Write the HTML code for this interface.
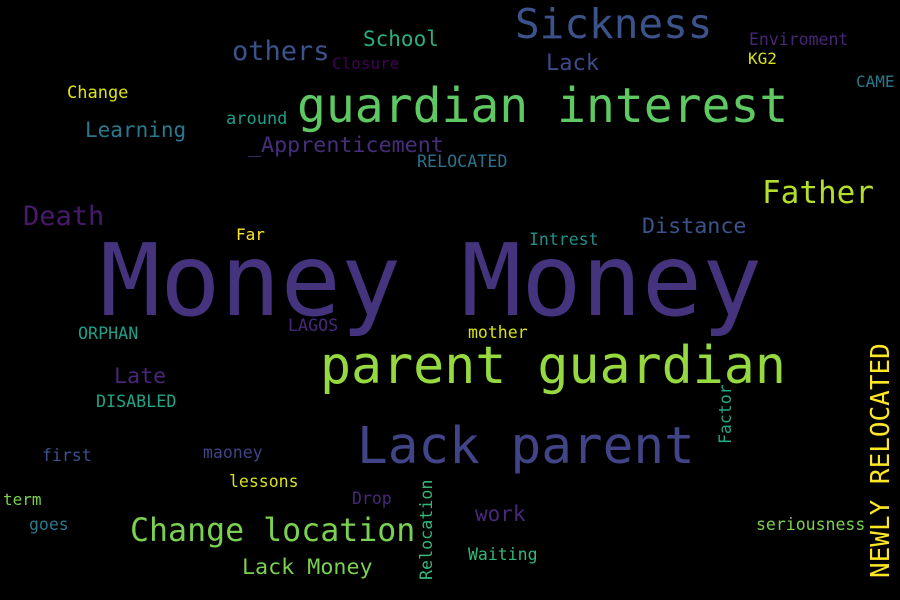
<!DOCTYPE html>
<html>
<head>
<meta charset="utf-8">
<style>
html,body{margin:0;padding:0;background:#000;}
svg{display:block;}
text{font-family:"DejaVu Sans Mono","Liberation Mono",monospace;}
</style>
</head>
<body>
<svg width="900" height="600" viewBox="0 0 900 600">
<rect width="900" height="600" fill="#000"/>
<text x="100" y="315" font-size="100" fill="#46337e">Money Money</text>
<text x="297" y="122" font-size="48" fill="#5ec962">guardian interest</text>
<text x="320" y="383" font-size="51.6" fill="#95d840">parent guardian</text>
<text x="357" y="463" font-size="51" fill="#414487">Lack parent</text>
<text x="515" y="38" font-size="41" fill="#3b528b">Sickness</text>
<text x="130" y="541" font-size="31.6" fill="#7ad151">Change location</text>
<text transform="translate(889,578) rotate(-90)" font-size="26" fill="#fde725">NEWLY RELOCATED</text>
<text x="762" y="203" font-size="31" fill="#b5de2b">Father</text>
<text x="23" y="225" font-size="27" fill="#481a6c">Death</text>
<text x="232" y="60" font-size="27" fill="#3b528b">others</text>
<text x="363" y="46" font-size="21" fill="#29af7f">School</text>
<text x="546" y="70" font-size="22" fill="#3e4a89">Lack</text>
<text x="749" y="45" font-size="16.5" fill="#482677">Enviroment</text>
<text x="748" y="64" font-size="16" fill="#d8e219">KG2</text>
<text x="856" y="87" font-size="16" fill="#2a788e">CAME</text>
<text x="332" y="69" font-size="16" fill="#440154">Closure</text>
<text x="67" y="98" font-size="17" fill="#dde318">Change</text>
<text x="226" y="124" font-size="17" fill="#1f9e89">around</text>
<text x="85" y="137" font-size="21" fill="#2a788e">Learning</text>
<text x="248" y="152" font-size="21.7" fill="#472d7b">_Apprenticement</text>
<text x="417" y="167" font-size="16.7" fill="#2c728e">RELOCATED</text>
<text x="642" y="233" font-size="21.7" fill="#3b528b">Distance</text>
<text x="236" y="240" font-size="16" fill="#fde725">Far</text>
<text x="529" y="245" font-size="16.5" fill="#21918c">Intrest</text>
<text x="78" y="339" font-size="16.7" fill="#1f9e89">ORPHAN</text>
<text x="288" y="331" font-size="16.7" fill="#482878">LAGOS</text>
<text x="468" y="338" font-size="16.5" fill="#d8e219">mother</text>
<text x="114" y="383" font-size="21.7" fill="#482677">Late</text>
<text x="96" y="407" font-size="16.7" fill="#20a386">DISABLED</text>
<text transform="translate(731,444) rotate(-90)" font-size="16.5" fill="#22a884">Factor</text>
<text x="42" y="461" font-size="16.5" fill="#3b528b">first</text>
<text x="203" y="458" font-size="16.5" fill="#414487">maoney</text>
<text x="229" y="487" font-size="16.5" fill="#d8e219">lessons</text>
<text x="3" y="505" font-size="16" fill="#7ad151">term</text>
<text x="352" y="504" font-size="16.5" fill="#482878">Drop</text>
<text transform="translate(432,580) rotate(-90)" font-size="16.7" fill="#35b779">Relocation</text>
<text x="475" y="521" font-size="21" fill="#482878">work</text>
<text x="756" y="530" font-size="16.5" fill="#7ad151">seriousness</text>
<text x="29" y="530" font-size="16.5" fill="#2a788e">goes</text>
<text x="468" y="560" font-size="16.5" fill="#35b779">Waiting</text>
<text x="242" y="574" font-size="21.7" fill="#7ad151">Lack Money</text>
</svg>
</body>
</html>
